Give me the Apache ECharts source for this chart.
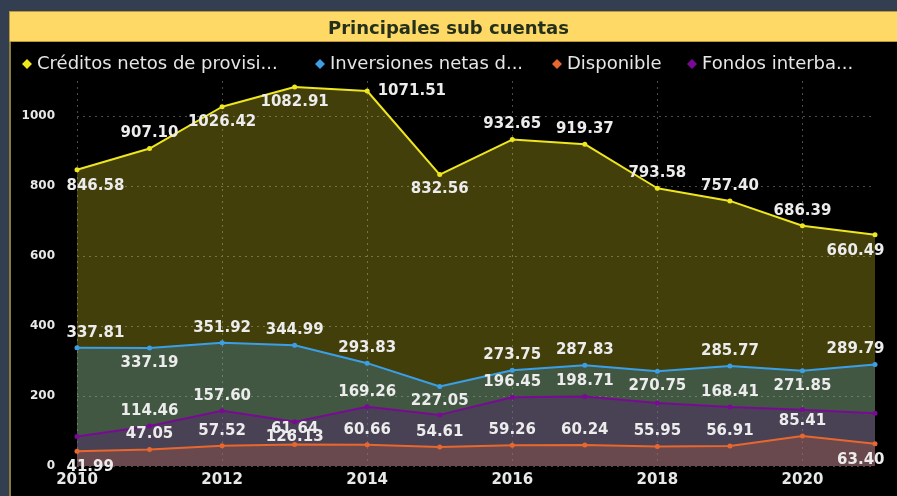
<!DOCTYPE html>
<html>
<head>
<meta charset="utf-8">
<script src="https://cdn.jsdelivr.net/npm/echarts@6/dist/echarts.min.js"></script>
<style>
  html, body { margin:0; padding:0; width:897px; height:496px; overflow:hidden; background:#343e51; }
  #panel { position:absolute; left:9px; top:41px; width:888px; height:455px; background:#000; border-left:2px solid #8c7a3c; box-sizing:border-box; }
  #bar { position:absolute; left:9px; top:11px; width:888px; height:31px; background:#fed966; border:1px solid #b8983a; border-right:none; box-sizing:border-box; }
  #chart { position:absolute; left:0; top:0; width:897px; height:496px; }
</style>
</head>
<body>
<div id="panel"></div>
<div id="bar"></div>
<div id="chart"></div>
<script>
const years = ['2010','2011','2012','2013','2014','2015','2016','2017','2018','2019','2020','2021'];
const creditos = [846.58, 907.10, 1026.42, 1082.91, 1071.51, 832.56, 932.65, 919.37, 793.58, 757.40, 686.39, 660.49];
const inversiones = [337.81, 337.19, 351.92, 344.99, 293.83, 227.05, 273.75, 287.83, 270.75, 285.77, 271.85, 289.79];
const disponible = [41.99, 47.05, 57.52, 61.64, 60.66, 54.61, 59.26, 60.24, 55.95, 56.91, 85.41, 63.40];
const fondos = [84, 114.46, 157.60, 126.13, 169.26, 146, 196.45, 198.71, 180, 168.41, 161, 151];
const yTicks = [0, 200, 400, 600, 800, 1000];

const names = ['Créditos netos de provisi...', 'Inversiones netas d...', 'Disponible', 'Fondos interba...'];

// label placement styles (t = top, b = bottom, r = right, B/T = shifted right, E/F = shifted left, n = none)
const posCreditos    = ['B','t','b','b','r','b','t','t','t','t','t','E'];
const posInversiones = ['T','b','t','t','t','b','t','t','b','t','b','F'];
const posDisponible  = ['B','t','t','t','t','t','t','t','t','t','t','E'];
const posFondos      = ['n','t','t','b','t','n','t','t','n','t','n','n'];

const labelFont = { color:'#ececec', fontFamily:'DejaVu Sans', fontWeight:'bold', fontSize:15 };

function withLabels(values, pos) {
  return values.map((v, i) => {
    const p = pos[i];
    let label;
    if (p === 'n') label = { show:false };
    else if (p === 't') label = { show:true, position:'top', distance:5 };
    else if (p === 'b') label = { show:true, position:'bottom', distance:5 };
    else if (p === 'r') label = { show:true, position:'right', distance:8 };
    else if (p === 'B') label = { show:true, position:[-8, 11], align:'left', verticalAlign:'top' };
    else if (p === 'T') label = { show:true, position:[-8, -5], align:'left', verticalAlign:'bottom' };
    else if (p === 'E') label = { show:true, position:[12, 11], align:'right', verticalAlign:'top' };
    else if (p === 'F') label = { show:true, position:[12, -5], align:'right', verticalAlign:'bottom' };
    return { value:v, label:label };
  });
}

function mkSeries(name, values, pos, lineColor, areaColor) {
  return {
    name: name, type:'line', data: withLabels(values, pos),
    symbol:'circle', symbolSize:5,
    lineStyle:{ color:lineColor, width:2 },
    itemStyle:{ color:lineColor },
    areaStyle:{ color:areaColor, opacity:1 },
    label:{ show:true, formatter:(p)=>p.value.toFixed(2), ...labelFont },
    labelLayout:{ hideOverlap:false },
    animation:false
  };
}

const chart = echarts.init(document.getElementById('chart'), null, { renderer:'canvas' });

function legendAt(name, left) {
  return {
    data:[name], left:left, top:50, icon:'diamond', itemWidth:10, itemHeight:10, itemGap:0,
    textStyle:{ color:'#e6e6e6', fontFamily:'DejaVu Sans', fontSize:18 }, selectedMode:false
  };
}

chart.setOption({
  backgroundColor:'transparent',
  title:{ text:'Principales sub cuentas', left:'center', top:15,
    textStyle:{ color:'#24301c', fontFamily:'DejaVu Sans', fontWeight:'bold', fontSize:18 } },
  legend:[
    legendAt(names[0], 17),
    legendAt(names[1], 310),
    legendAt(names[2], 547),
    legendAt(names[3], 682)
  ],
  grid:{ left:77, right:22, top:81, bottom:30, containLabel:false },
  xAxis:{
    type:'category', data:years, boundaryGap:false,
    axisLine:{ show:false }, axisTick:{ show:false },
    axisLabel:{ interval:1, color:'#e8e8e8', fontFamily:'DejaVu Sans', fontWeight:'bold', fontSize:15, margin:7 },
    splitLine:{ show:true, interval:1, lineStyle:{ color:'#4a4a4a', type:[2,4], width:1 } }
  },
  yAxis:{
    type:'value', min:0, max:1100, interval:200,
    axisLine:{ show:false }, axisTick:{ show:false },
    axisLabel:{ color:'#e8e8e8', fontFamily:'DejaVu Sans', fontWeight:'bold', fontSize:12, margin:22,
      showMaxLabel:false, formatter:(v)=> yTicks.includes(v) ? String(v) : '' },
    splitLine:{ show:true, showMaxLine:false, lineStyle:{ color:'#4a4a4a', type:[2,4], width:1 } }
  },
  series:[
    mkSeries(names[0], creditos, posCreditos, '#eee61e', 'rgba(240,226,40,0.28)'),
    mkSeries(names[1], inversiones, posInversiones, '#3a9fe6', 'rgba(58,159,230,0.25)'),
    mkSeries(names[3], fondos, posFondos, '#7a0a96', 'rgba(100,0,140,0.25)'),
    mkSeries(names[2], disponible, posDisponible, '#e8672e', 'rgba(235,105,50,0.2)')
  ]
});
</script>
</body>
</html>
